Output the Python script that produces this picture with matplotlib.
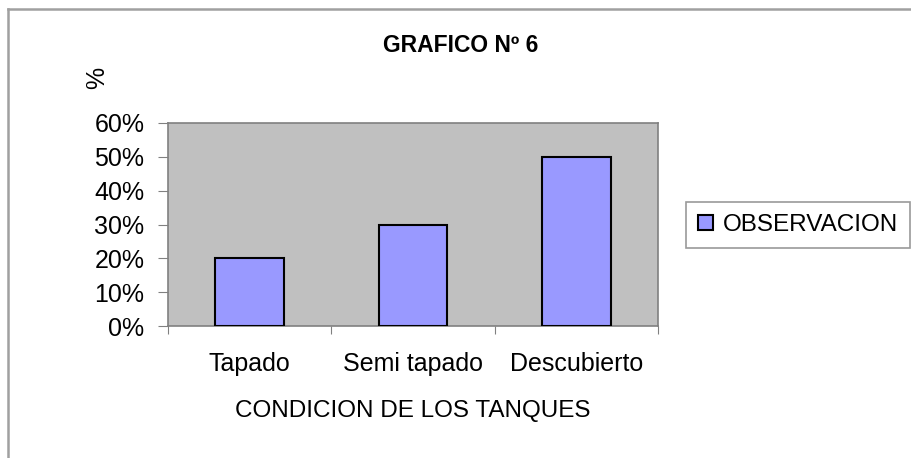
import numpy as np
import matplotlib.pyplot as plt
from matplotlib.lines import Line2D

plt.rcParams['font.family'] = ['Liberation Sans', 'DejaVu Sans']

categories = ['Tapado', 'Semi tapado', 'Descubierto']
values = [0.20, 0.30, 0.50]
y_ticks = [0.0, 0.1, 0.2, 0.3, 0.4, 0.5, 0.6]
series_name = 'OBSERVACION'

fig = plt.figure(figsize=(9.12, 4.58), dpi=100)
ax = fig.add_axes([168 / 912, 1 - 326 / 458, 490 / 912, 203 / 458])
ax.set_facecolor('#C0C0C0')

x = np.arange(len(categories))
ax.bar(x, values, width=0.42, color='#9999FF', edgecolor='black', linewidth=1.5,
       label=series_name, zorder=3)

ax.set_xlim(-0.5, len(categories) - 0.5)
ax.set_ylim(0, 0.6)
ax.set_yticks(y_ticks)
ax.set_yticklabels([f'{int(round(v * 100))}%' for v in y_ticks], fontsize=18)

# category boundaries carry the ticks, labels sit in the middle
ax.set_xticks(np.arange(len(categories) + 1) - 0.5)
ax.set_xticklabels([])
ax.set_xticks(x, minor=True)
ax.set_xticklabels(categories, minor=True, fontsize=18)
ax.tick_params(axis='x', which='major', length=6, color='#808080', direction='out')
ax.tick_params(axis='x', which='minor', length=0, pad=19)
ax.tick_params(axis='y', length=7, color='#808080', pad=10)

for s in ax.spines.values():
    s.set_color('#808080')
    s.set_linewidth(1.2)

ax.set_xlabel('CONDICION DE LOS TANQUES', fontsize=17.5, labelpad=17)

fig.text(461 / 912, 1 - 45 / 458, 'GRAFICO Nº 6', fontsize=16.5, fontweight='bold',
         ha='center', va='center')
fig.text(97 / 912, 1 - 78 / 458, '%', fontsize=18, rotation=90, ha='center', va='center')

leg = fig.legend(loc='upper left', bbox_to_anchor=(686 / 912, 1 - 202 / 458),
                 bbox_transform=fig.transFigure, fontsize=17.5, frameon=True,
                 fancybox=False, handlelength=0.6, handleheight=0.6,
                 handletextpad=0.4, borderpad=0.5, borderaxespad=0)
leg.get_frame().set_edgecolor('#808080')
leg.get_frame().set_linewidth(1.2)

# outer chart-area border (top and left edges visible)
fig.add_artist(Line2D([8 / 912, 1], [1 - 9 / 458, 1 - 9 / 458], color='#A0A0A0',
                      linewidth=1.8, transform=fig.transFigure))
fig.add_artist(Line2D([8 / 912, 8 / 912], [0, 1 - 9 / 458], color='#A0A0A0',
                      linewidth=1.8, transform=fig.transFigure))

fig.savefig('out.png', dpi=100)
